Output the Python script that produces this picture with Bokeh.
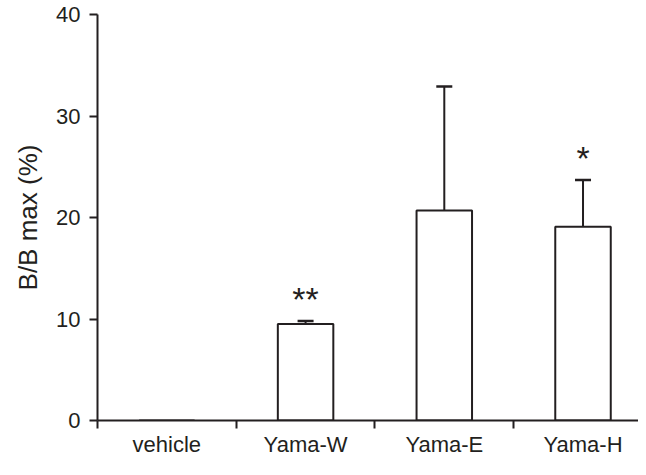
from bokeh.plotting import figure
from bokeh.models import Range1d, FixedTicker, ColumnDataSource, Whisker, TeeHead
from bokeh.embed import file_html
from bokeh.resources import INLINE
from bokeh.core.properties import value

categories = ["vehicle", "Yama-W", "Yama-E", "Yama-H"]
means = [0.0, 9.5, 20.7, 19.1]
errors = [0.0, 0.3, 12.2, 4.6]
marks = ["", "**", "", "*"]
y_ticks = [0, 10, 20, 30, 40]

INK = "#231f20"
FONT = "Liberation Sans"

xs = [i + 0.5 for i in range(len(categories))]
bounds = list(range(len(categories) + 1))

p = figure(width=638, height=459, output_backend="svg", toolbar_location=None,
           x_range=Range1d(0, 3.9), y_range=Range1d(0, 40),
           min_border_left=97, min_border_top=14, min_border_right=0,
           min_border_bottom=0)
p.outline_line_color = None
p.xgrid.visible = False
p.ygrid.visible = False
p.background_fill_color = "white"
p.border_fill_color = "white"

# x axis: labels at category centres, ticks at category boundaries
xa = p.xaxis[0]
xa.ticker = FixedTicker(ticks=xs, minor_ticks=bounds)
xa.major_label_overrides = {x: c for x, c in zip(xs, categories)}
xa.major_tick_line_color = None
xa.major_tick_out = 8
xa.major_tick_in = 0
xa.minor_tick_out = 8
xa.minor_tick_in = 0
xa.minor_tick_line_width = 2
xa.minor_tick_line_color = INK
xa.axis_line_width = 2
xa.axis_line_color = INK
xa.major_label_standoff = 3
xa.major_label_text_font = FONT
xa.major_label_text_font_size = "22px"
xa.major_label_text_color = INK

ya = p.yaxis[0]
ya.ticker = FixedTicker(ticks=y_ticks, minor_ticks=[])
ya.major_tick_out = 8
ya.major_tick_in = 0
ya.major_tick_line_width = 2
ya.major_tick_line_color = INK
ya.axis_line_width = 2
ya.axis_line_color = INK
ya.major_label_standoff = 9
ya.major_label_text_font = FONT
ya.major_label_text_font_size = "22px"
ya.major_label_text_color = INK
ya.axis_label = "B/B max (%)"
ya.axis_label_text_font = FONT
ya.axis_label_text_font_size = "26px"
ya.axis_label_text_font_style = "normal"
ya.axis_label_text_color = INK
ya.axis_label_standoff = 10

p.vbar(x=xs, top=means, bottom=0, width=0.4, fill_color="white",
       line_color=INK, line_width=2)

wx, wl, wu = [], [], []
for x, m, e in zip(xs, means, errors):
    if e > 0:
        wx.append(x); wl.append(m); wu.append(m + e)
wsrc = ColumnDataSource(dict(x=wx, lower=wl, upper=wu))
p.add_layout(Whisker(base="x", lower="lower", upper="upper", source=wsrc,
                     dimension="height", line_color=INK, line_width=2,
                     upper_head=TeeHead(size=16, line_width=2.5, line_color=INK),
                     lower_head=None))

tx, ty, tt = [], [], []
for x, m, e, s in zip(xs, means, errors, marks):
    if s:
        tx.append(x); ty.append(m + e + 2.2); tt.append(s)
p.text(x=tx, y=ty, text=tt, text_align="center", text_baseline="middle",
       text_font=value(FONT), text_font_size="34px", text_color=INK)

open("out.html", "w").write(file_html(p, INLINE))
